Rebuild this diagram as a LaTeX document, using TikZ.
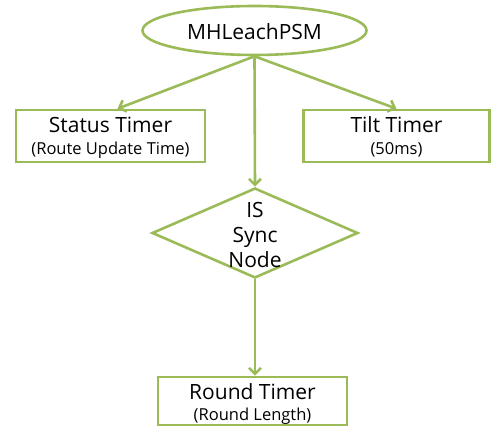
\documentclass[tikz,border=0pt]{standalone}
\usepackage{fontspec}
\setmainfont{Open Sans}
\usetikzlibrary{shapes.geometric,arrows.meta,calc}
\definecolor{lgreen}{RGB}{155,187,89}
\begin{document}
\begin{tikzpicture}[x=1pt,y=-1pt,
  shp/.style={draw=lgreen,line width=2.6pt,inner sep=0pt,fill=white},
  box/.style={shp,rectangle,align=center},
  conn/.style={draw=lgreen,line width=2.6pt,-{Straight Barb[length=6pt,width=12pt,line width=2.6pt]}},
  big/.style={font=\fontsize{21}{25}\selectfont},
  small/.style={font=\fontsize{16.5}{19}\selectfont}]
\useasboundingbox (0,0) rectangle (491,427);
\node[shp,ellipse,minimum width=224pt,minimum height=49pt] (top) at (254.5,30.5) {};
\node[big,anchor=base] (toptxt) at (254.5,40) {MHLeachPSM};
\node[box,minimum width=189pt,minimum height=52pt] (status) at (110.5,136) {};
\node[big,anchor=base] (statust) at (110.5,133) {Status Timer};
\node[small,anchor=base] (statuss) at (110.5,155) {(Route Update Time)};
\node[box,minimum width=186pt,minimum height=52pt] (tilt) at (396.5,136) {};
\node[big,anchor=base] (tiltt) at (396.5,133) {Tilt Timer};
\node[small,anchor=base] (tilts) at (396.5,155) {(50ms)};
\node[shp,diamond,minimum width=206pt,minimum height=90pt] (sync) at (255,233) {};
\node[big,align=center] (synct) at (255,235) {IS\\Sync\\Node};
\node[box,minimum width=189pt,minimum height=48pt] (round) at (252.5,401) {};
\node[big,anchor=base] (roundt) at (252.5,400) {Round Timer};
\node[small,anchor=base] (rounds) at (252.5,421) {(Round Length)};
\draw[conn] (top.south) -- ($(status.north)+(7,0)$);
\draw[conn] (top.south) -- (tilt.north);
\draw[conn] (top.south) -- (sync.north);
\draw[conn] (sync.south) -- (sync.south |- round.north);
\end{tikzpicture}
\end{document}
